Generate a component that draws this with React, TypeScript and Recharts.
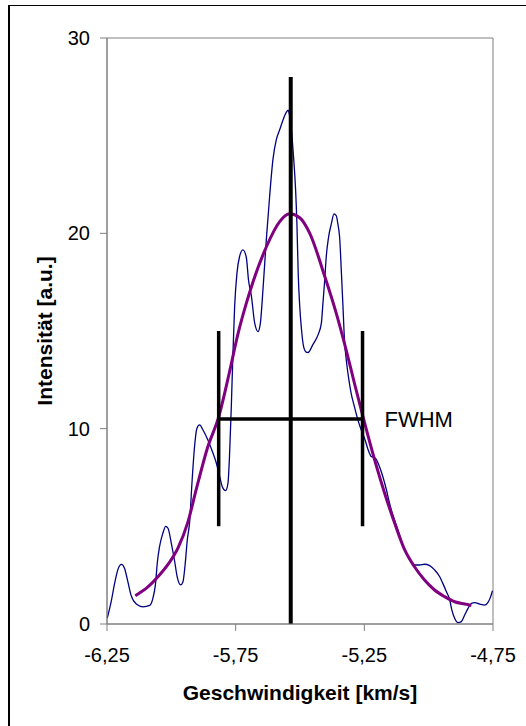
import React from 'react';
import { LineChart, Line, XAxis, YAxis, ReferenceLine, ReferenceArea, Label } from 'recharts';

const FONT = '"Liberation Sans", Arial, Helvetica, sans-serif';

// Axis ticks
const xTicks = [-6.25, -5.75, -5.25, -4.75];
const yTicks = [0, 10, 20, 30];

// Measured spectrum (blue)
const measuredX = [
  -6.249, -6.233, -6.22, -6.208, -6.194, -6.182, -6.169, -6.156, -6.136, -6.11,
  -6.084, -6.072, -6.062, -6.054, -6.046, -6.033, -6.022, -6.013, -6.0, -5.987,
  -5.977, -5.964, -5.955, -5.946, -5.938, -5.929, -5.919, -5.91, -5.901, -5.89,
  -5.877, -5.858, -5.838, -5.825, -5.812, -5.802, -5.789, -5.78, -5.774, -5.767,
  -5.761, -5.754, -5.745, -5.735, -5.722, -5.709, -5.7, -5.689, -5.676, -5.663,
  -5.654, -5.644, -5.631, -5.618, -5.605, -5.592, -5.579, -5.566, -5.553, -5.546,
  -5.54, -5.525, -5.517, -5.512, -5.507, -5.501, -5.494, -5.486, -5.476, -5.469,
  -5.45, -5.43, -5.417, -5.411, -5.404, -5.398, -5.389, -5.378, -5.368, -5.359,
  -5.353, -5.346, -5.339, -5.333, -5.327, -5.32, -5.31, -5.301, -5.288, -5.275,
  -5.262, -5.249, -5.236, -5.223, -5.207, -5.191, -5.178, -5.164, -5.152, -5.139,
  -5.126, -5.113, -5.1, -5.087, -5.074, -5.055, -5.035, -5.016, -4.996, -4.977,
  -4.957, -4.945, -4.931, -4.918, -4.91, -4.899, -4.886, -4.873, -4.86, -4.847,
  -4.834, -4.821, -4.802, -4.782, -4.77, -4.759, -4.752,
];
const measuredY = [
  0.3, 1.2, 2.1, 2.77, 3.05, 2.85, 2.17, 1.45, 1.02, 0.88,
  0.95, 1.3, 2.0, 3.2, 3.95, 4.64, 5.0, 4.9, 4.13, 3.2,
  2.4, 2.0, 2.15, 3.1, 4.3, 5.2, 7.4, 9.05, 10.0, 10.19,
  9.93, 9.42, 8.74, 8.23, 7.54, 7.03, 6.83, 7.2, 8.57, 11.1,
  13.7, 16.25, 17.96, 18.8, 19.15, 18.8, 17.6, 16.8, 15.4, 14.97,
  15.4, 17.1, 19.66, 21.9, 23.8, 24.8, 25.3, 25.8, 26.2, 26.3,
  26.0, 23.9, 22.2, 20.5, 17.96, 16.25, 15.05, 14.2, 13.92, 13.9,
  14.3, 14.8, 15.4, 16.4, 17.6, 18.8, 19.8, 20.5, 21.0, 20.9,
  20.5, 19.8, 17.96, 16.25, 14.5, 13.5, 12.5, 11.8, 11.1, 10.45,
  9.93, 9.5, 8.95, 8.57, 8.48, 8.05, 7.54, 6.86, 6.18, 5.58,
  5.07, 4.56, 4.04, 3.62, 3.28, 3.02, 3.02, 3.06, 2.99, 2.77,
  2.42, 2.08, 1.65, 1.23, 0.72, 0.29, 0.07, 0.12, 0.46, 0.8,
  1.06, 1.09, 1.02, 0.97, 1.09, 1.4, 1.7,
];

// Gaussian fit (purple)
const fitX = [
  -6.14, -6.091, -6.052, -6.013, -5.974, -5.936, -5.903, -5.86, -5.816, -5.774,
  -5.742, -5.709, -5.683, -5.631, -5.579, -5.54, -5.501, -5.462, -5.404,
  -5.359, -5.32, -5.288, -5.255, -5.21, -5.171, -5.132, -5.093, -5.055, -5.016,
  -4.977, -4.938, -4.899, -4.86, -4.834,
];
const fitY = [
  1.45, 1.9, 2.42, 3.05, 3.9, 5.2, 6.9, 9.0, 10.6, 12.9,
  14.8, 16.4, 17.5, 19.3, 20.6, 21.0, 20.8, 20.0, 17.8,
  15.9, 14.0, 12.3, 10.6, 8.4, 6.69, 5.16, 3.79, 2.93, 2.25,
  1.74, 1.4, 1.14, 1.02, 0.95,
];

// Line centre and FWHM markers
const centerX = -5.536;
const centerTop = 28;
const fwhmLeftX = -5.816;
const fwhmRightX = -5.257;
const halfMax = 10.5;
const fwhmBarLow = 5;
const fwhmBarHigh = 15;

const measured = measuredX.map((x, i) => ({ x, y: measuredY[i] }));
const fit = fitX.map((x, i) => ({ x, y: fitY[i] }));

const fmt = (v: number) => v.toFixed(2).replace('.', ',');

const XTitle = (props: any) => {
  const vb = props.viewBox || { x: 107, y: 624, width: 386, height: 102 };
  return (
    <text
      x={vb.x + vb.width / 2}
      y={vb.y + 76}
      textAnchor="middle"
      fontFamily={FONT}
      fontSize={21}
      fontWeight="bold"
      fill="#000"
    >
      Geschwindigkeit [km/s]
    </text>
  );
};

const YTitle = (props: any) => {
  const vb = props.viewBox || { x: 0, y: 38, width: 107, height: 586 };
  const cx = vb.x + 52;
  const cy = vb.y + vb.height / 2;
  return (
    <text
      x={0}
      y={0}
      transform={`translate(${cx}, ${cy}) rotate(-90)`}
      textAnchor="middle"
      fontFamily={FONT}
      fontSize={21}
      fontWeight="bold"
      fill="#000"
    >
      Intensität [a.u.]
    </text>
  );
};

export default function App() {
  return (
    <div style={{ position: 'absolute', left: 0, top: 0, width: 526, height: 726, overflow: 'hidden', background: '#fff' }}>
      <div
        style={{
          position: 'absolute',
          left: 8,
          top: 5,
          width: 518,
          height: 721,
          borderLeft: '2px solid #000',
          borderTop: '1px solid #000',
          boxSizing: 'border-box',
        }}
      />
      <div style={{ position: 'absolute', left: 0, top: 0 }}>
        <LineChart width={526} height={726} margin={{ top: 38, right: 33, bottom: 0, left: 0 }}>
          <XAxis
            type="number"
            dataKey="x"
            domain={[-6.25, -4.75]}
            ticks={xTicks}
            interval={0}
            allowDataOverflow
            tickFormatter={fmt}
            height={102}
            stroke="#808080"
            tickSize={7}
            tickMargin={17}
            tick={{ fill: '#000', fontSize: 20, fontFamily: FONT }}
            label={<Label content={<XTitle />} />}
          />
          <YAxis
            type="number"
            dataKey="y"
            domain={[0, 30]}
            ticks={yTicks}
            interval={0}
            allowDataOverflow
            width={107}
            stroke="#808080"
            tickSize={7}
            tickMargin={10}
            tick={{ fill: '#000', fontSize: 20, fontFamily: FONT }}
            label={<Label content={<YTitle />} />}
          />
          <ReferenceArea x1={-6.25} x2={-4.75} y1={0} y2={30} fill="none" fillOpacity={0} stroke="#808080" strokeWidth={1} />
          <Line
            data={measured}
            dataKey="y"
            type="monotone"
            stroke="#000080"
            strokeWidth={1.3}
            dot={false}
            activeDot={false}
            isAnimationActive={false}
          />
          <Line
            data={fit}
            dataKey="y"
            type="monotone"
            stroke="#800080"
            strokeWidth={3}
            dot={false}
            activeDot={false}
            isAnimationActive={false}
          />
          <ReferenceLine
            segment={[{ x: centerX, y: 0 }, { x: centerX, y: centerTop }]}
            stroke="#000"
            strokeWidth={4}
          />
          <ReferenceLine
            segment={[{ x: fwhmLeftX, y: fwhmBarLow }, { x: fwhmLeftX, y: fwhmBarHigh }]}
            stroke="#000"
            strokeWidth={3.5}
          />
          <ReferenceLine
            segment={[{ x: fwhmRightX, y: fwhmBarLow }, { x: fwhmRightX, y: fwhmBarHigh }]}
            stroke="#000"
            strokeWidth={3.5}
          />
          <ReferenceLine
            segment={[{ x: fwhmLeftX, y: halfMax }, { x: fwhmRightX, y: halfMax }]}
            stroke="#000"
            strokeWidth={3.5}
            label={{ value: 'FWHM', position: 'right', offset: 22, fill: '#000', fontSize: 22, fontFamily: FONT }}
          />
        </LineChart>
      </div>
    </div>
  );
}
